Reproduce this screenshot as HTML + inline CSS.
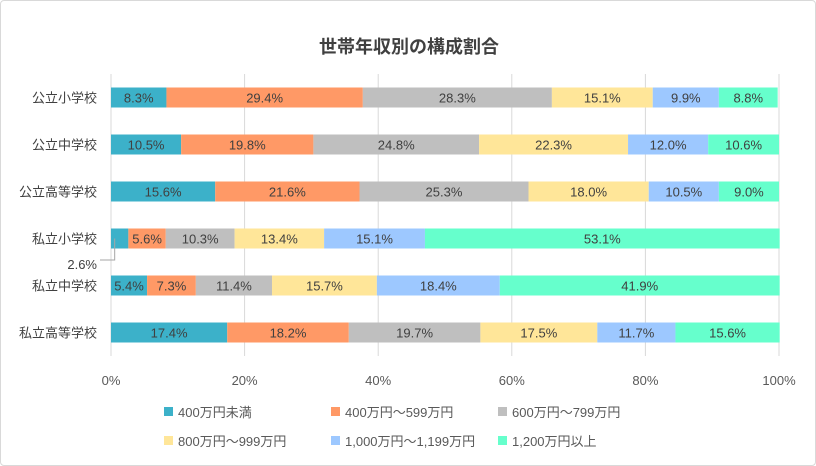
<!DOCTYPE html>
<html><head><meta charset="utf-8"><style>
body{margin:0;background:#fff}
#c{position:relative;width:816px;height:466px;box-sizing:border-box;border:1px solid #d9d9d9;border-radius:4px;overflow:hidden;font-family:"Liberation Sans","Noto Sans CJK JP",sans-serif}
text{font-family:"Liberation Sans","Noto Sans CJK JP",sans-serif}
</style></head><body>
<div id="c">
<svg id="s" width="816" height="466" xmlns="http://www.w3.org/2000/svg">
<text x="408" y="52" text-anchor="middle" font-size="18" font-weight="bold" fill="#404040">世帯年収別の構成割合</text>
</svg>
</div>
<script>
const categories=["公立小学校","公立中学校","公立高等学校","私立小学校","私立中学校","私立高等学校"];
const seriesNames=["400万円未満","400万円～599万円","600万円～799万円","800万円～999万円","1,000万円～1,199万円","1,200万円以上"];
const s1=[8.3,10.5,15.6,2.6,5.4,17.4];
const s2=[29.4,19.8,21.6,5.6,7.3,18.2];
const s3=[28.3,24.8,25.3,10.3,11.4,19.7];
const s4=[15.1,22.3,18.0,13.4,15.7,17.5];
const s5=[9.9,12.0,10.5,15.1,18.4,11.7];
const s6=[8.8,10.6,9.0,53.1,41.9,15.6];
const ticks=[0,20,40,60,80,100];
const series=[s1,s2,s3,s4,s5,s6];
const colors=["#3cb1c9","#ff9966","#bfbfbf","#ffe699","#9dc8ff","#66ffcc"];
const NS="http://www.w3.org/2000/svg";
const svg=document.getElementById('s');
const X0=110,X1=778,Y0=73,RH=47,BH=20;
const x=v=>X0+(X1-X0)*v/100;
const yc=i=>Y0+RH*i+RH/2;
function mk(t,a){const e=document.createElementNS(NS,t);for(const k in a)e.setAttribute(k,a[k]);svg.appendChild(e);return e;}
ticks.forEach(t=>{
 const l=mk('line',{x1:x(t),x2:x(t),y1:Y0,y2:Y0+RH*6,stroke:'#d9d9d9','stroke-width':1});
 
 
 const tx=mk('text',{x:x(t),y:384,'text-anchor':'middle','font-size':13,fill:'#595959'});
 tx.textContent=t+'%';
 
 
});
categories.forEach((c,i)=>{
 const t=mk('text',{x:96,y:yc(i)+5,'text-anchor':'end','font-size':13,fill:'#404040'});
 t.textContent=c;
 
 
 let acc=0;
 series.forEach((s,j)=>{
  const v=s[i];
  const r=mk('rect',{x:x(acc),y:yc(i)-BH/2,width:x(acc+v)-x(acc),height:BH,fill:colors[j]});
  
  
  if(v>=5){
   const lt=mk('text',{x:(x(acc)+x(acc+v))/2,y:yc(i)+5,'text-anchor':'middle','font-size':13,fill:'#404040'});
   lt.textContent=v.toFixed(1)+'%';
   
   
  } else {
   const lx=x(acc+v/2);
   const ly=i===3?263:318;
   const ln=mk('polyline',{points:(i===3?(lx-5)+','+(yc(i))+' '+(lx-5)+','+(ly-4)+' 99,'+(ly-4):lx+','+(yc(i))+' 99,'+(yc(i)+7)),fill:'none',stroke:'#a6a6a6'});
   
   
   const lt=mk('text',{x:96,y:ly+5,'text-anchor':'end','font-size':13,fill:'#404040'});
   lt.textContent=v.toFixed(1)+'%';
   
   
  }
  acc+=v;
 });
});
const lxs=[163,330,497];
seriesNames.forEach((n,j)=>{
 const lx=lxs[j%3],ly=j<3?411:440;
 const r=mk('rect',{x:lx,y:ly-5,width:9,height:9,fill:colors[j]});
 
 
 const t=mk('text',{x:lx+14,y:ly+5,'font-size':13,fill:'#595959'});
 t.textContent=n;
 
 
});
</script>
</body></html>
